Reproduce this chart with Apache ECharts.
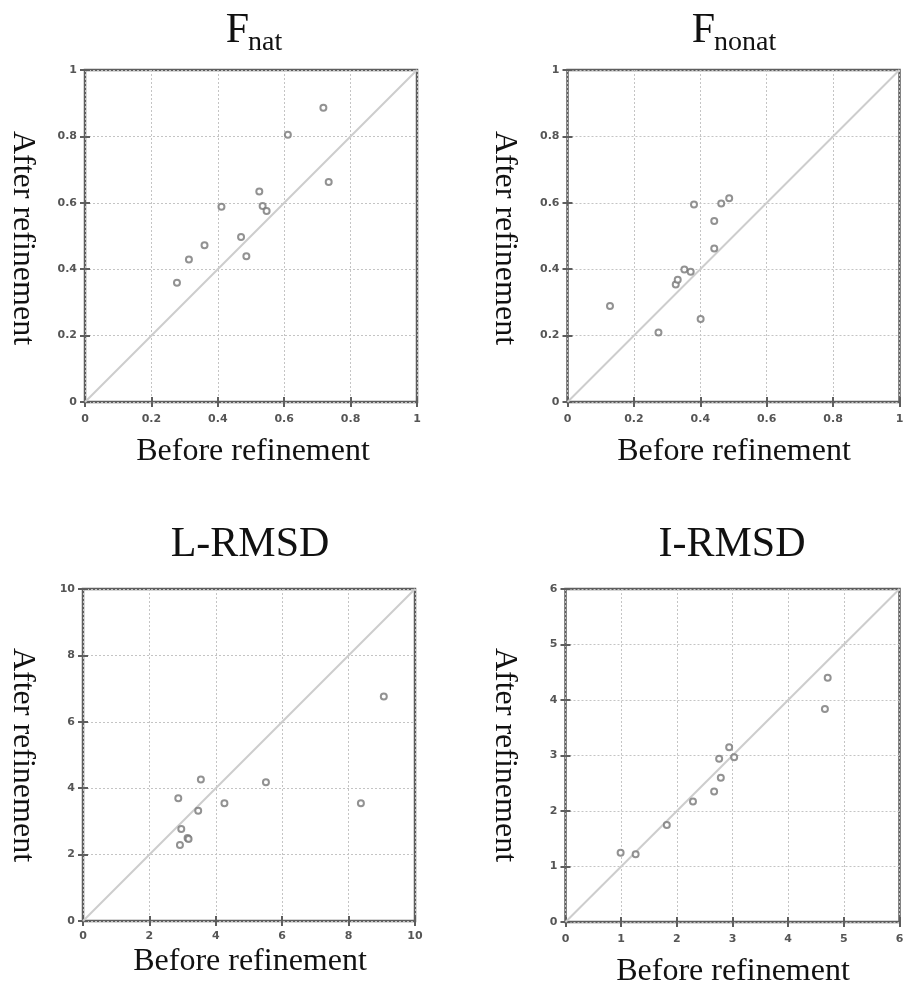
<!DOCTYPE html>
<html><head><meta charset="utf-8">
<script src="https://cdn.jsdelivr.net/npm/echarts@6/dist/echarts.min.js"></script>
<style>html,body{margin:0;padding:0;background:#fff}#c{width:908px;height:986px}</style>
</head><body><div id="c"></div>
<script>
// ---- data ----
const fnatBefore   = [0.718,0.611,0.734,0.525,0.411,0.535,0.547,0.470,0.360,0.486,0.313,0.277];
const fnatAfter    = [0.886,0.805,0.663,0.634,0.588,0.590,0.575,0.497,0.472,0.439,0.429,0.359];
const fnonatBefore = [0.128,0.274,0.326,0.332,0.352,0.371,0.381,0.401,0.442,0.442,0.463,0.487];
const fnonatAfter  = [0.289,0.209,0.354,0.368,0.399,0.392,0.595,0.250,0.462,0.545,0.598,0.614];
const lrmsdBefore  = [9.06,5.51,3.55,2.87,4.26,8.37,3.47,2.96,3.15,3.18,2.92];
const lrmsdAfter   = [6.76,4.18,4.26,3.70,3.55,3.55,3.32,2.77,2.50,2.47,2.29];
const irmsdBefore  = [4.71,4.66,2.94,2.76,3.03,2.79,2.67,2.29,1.82,0.99,1.26];
const irmsdAfter   = [4.40,3.84,3.15,2.94,2.97,2.60,2.35,2.17,1.75,1.25,1.22];
const axisMax      = [1, 1, 10, 6];
const axisInterval = [0.2, 0.2, 2, 1];
const xTitle = 'Before refinement';
const yTitle = 'After refinement';

// ---- layout ----
const grids = [
  {left: 85,    top: 70,  width: 332, height: 332},
  {left: 567.5, top: 70,  width: 332, height: 332},
  {left: 83,    top: 589, width: 332, height: 332},
  {left: 565.5, top: 589, width: 334, height: 333}
];
const panels = [
  [fnatBefore, fnatAfter], [fnonatBefore, fnonatAfter],
  [lrmsdBefore, lrmsdAfter], [irmsdBefore, irmsdAfter]
];
const BOX = '#5e5e5e';
const labelStyle = {fontFamily: 'DejaVu Sans', fontWeight: 'bold', fontSize: 11, color: '#555'};

const option = {animation: false, grid: [], xAxis: [], yAxis: [], series: [], graphic: []};
grids.forEach((g, i) => {
  option.grid.push(Object.assign({show: true, borderColor: BOX, borderWidth: 2.5, backgroundColor: '#fff'}, g));
  const base = {type: 'value', gridIndex: i, min: 0, max: axisMax[i], interval: axisInterval[i],
    axisLine: {show: false},
    axisTick: {show: true, inside: true, length: 5, lineStyle: {color: BOX, width: 2}},
    splitLine: {show: true, lineStyle: {color: '#c4c4c4', type: [2, 2], width: 1}}};
  option.xAxis.push(Object.assign({}, base, {position: 'bottom', axisLabel: Object.assign({margin: i === 2 ? 10 : 12}, labelStyle)}));
  option.xAxis.push(Object.assign({}, base, {position: 'top', axisLabel: {show: false}, splitLine: {show: false}}));
  option.yAxis.push(Object.assign({}, base, {position: 'left', axisLabel: Object.assign({margin: 8}, labelStyle)}));
  option.yAxis.push(Object.assign({}, base, {position: 'right', axisLabel: {show: false}, splitLine: {show: false}}));
  option.series.push({type: 'line', xAxisIndex: 2*i, yAxisIndex: 2*i, silent: true, symbol: 'none',
    data: [[0, 0], [axisMax[i], axisMax[i]]], lineStyle: {color: '#cdcdcd', width: 2}, z: 2});
  option.series.push({type: 'scatter', xAxisIndex: 2*i, yAxisIndex: 2*i, symbol: 'emptyCircle', symbolSize: 6,
    itemStyle: {color: '#777', borderWidth: 1.6}, z: 3,
    data: panels[i][0].map((v, k) => [v, panels[i][1][k]])});
});

const serif = '"Liberation Serif", "Times New Roman", serif';
function txt(x, y, text, size, rot, align) {
  return {type: 'text', x: x, y: y, rotation: rot || 0, z: 10,
    style: {text: text, font: size + 'px ' + serif, fill: '#111',
      align: align || 'center', verticalAlign: 'middle',
      textAlign: align || 'center', textVerticalAlign: 'middle'}};
}
// titles: main letter + subscript
option.graphic.push(txt(249, 31, 'F', 42, 0, 'right'));
option.graphic.push(txt(248, 42.5, 'nat', 28, 0, 'left'));
option.graphic.push(txt(715, 31, 'F', 42, 0, 'right'));
option.graphic.push(txt(714, 42.5, 'nonat', 28, 0, 'left'));
option.graphic.push(txt(250, 545, 'L-RMSD', 42));
option.graphic.push(txt(732, 545, 'I-RMSD', 42));
// axis names
option.graphic.push(txt(253, 452, xTitle, 32));
option.graphic.push(txt(734, 452, xTitle, 32));
option.graphic.push(txt(250, 962, xTitle, 32));
option.graphic.push(txt(733, 972, xTitle, 32));
option.graphic.push(txt(22, 238, yTitle, 32, -Math.PI / 2));
option.graphic.push(txt(504, 238, yTitle, 32, -Math.PI / 2));
option.graphic.push(txt(22, 755, yTitle, 32, -Math.PI / 2));
option.graphic.push(txt(504, 755, yTitle, 32, -Math.PI / 2));

const chart = echarts.init(document.getElementById('c'), null, {renderer: 'canvas'});
chart.setOption(option);
</script></body></html>
